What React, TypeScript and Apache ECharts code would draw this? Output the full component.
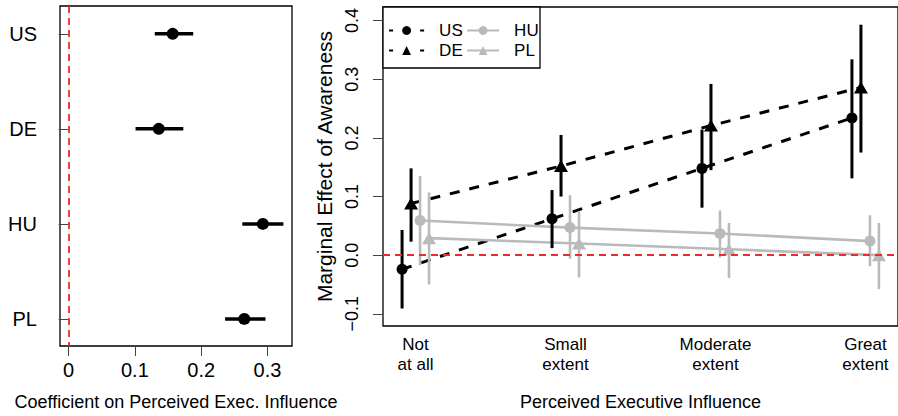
import React, { useEffect, useRef } from "react";
import * as echarts from "echarts";

// ---- Left panel data ----
const countries = ["US", "DE", "HU", "PL"];
const coefEst = [0.157, 0.136, 0.293, 0.265];
const coefLo = [0.130, 0.101, 0.262, 0.236];
const coefHi = [0.188, 0.173, 0.324, 0.297];
const coefTicks = [0, 0.1, 0.2, 0.3];

// ---- Right panel data ----
const influenceLevels = ["Not\nat all", "Small\nextent", "Moderate\nextent", "Great\nextent"];
const usEst = [-0.024, 0.062, 0.148, 0.234];
const usLo = [-0.091, 0.012, 0.081, 0.131];
const usHi = [0.043, 0.111, 0.214, 0.334];
const deEst = [0.088, 0.152, 0.221, 0.286];
const deLo = [0.023, 0.100, 0.145, 0.175];
const deHi = [0.148, 0.205, 0.292, 0.393];
const huEst = [0.059, 0.047, 0.037, 0.024];
const huLo = [-0.017, -0.006, -0.004, -0.019];
const huHi = [0.135, 0.102, 0.076, 0.068];
const plEst = [0.029, 0.020, 0.010, 0.000];
const plLo = [-0.050, -0.038, -0.039, -0.058];
const plHi = [0.107, 0.075, 0.055, 0.055];
const effectTicks = [-0.1, 0.0, 0.1, 0.2, 0.3, 0.4];

// jitter of each country around a category position (style)
const jitter: Record<string, number> = { US: -0.09, DE: -0.03, HU: 0.03, PL: 0.09 };

const FONT = "Liberation Sans, Arial, Helvetica, sans-serif";
const BLACK = "#000000";
const GRAY = "#bababa";
const RED = "#ee2a2a";

export default function App() {
  const ref = useRef<HTMLDivElement>(null);

  useEffect(() => {
    document.body.style.margin = "0";
    if (!ref.current) return;
    const chart = echarts.init(ref.current, undefined, { renderer: "svg" });

    const groups = [
      { name: "US", est: usEst, lo: usLo, hi: usHi, color: BLACK, symbol: "circle", dashed: true },
      { name: "DE", est: deEst, lo: deLo, hi: deHi, color: BLACK, symbol: "triangle", dashed: true },
      { name: "HU", est: huEst, lo: huLo, hi: huHi, color: GRAY, symbol: "circle", dashed: false },
      { name: "PL", est: plEst, lo: plLo, hi: plHi, color: GRAY, symbol: "triangle", dashed: false },
    ];

    const rightSeries: any[] = [];
    groups.forEach((g) => {
      const xs = influenceLevels.map((_, i) => i + 1 + jitter[g.name]);
      rightSeries.push({
        type: "custom",
        name: g.name + " CI",
        xAxisIndex: 1,
        yAxisIndex: 1,
        silent: true,
        z: 3,
        data: xs.map((x, i) => [x, g.lo[i], g.hi[i]]),
        encode: { x: 0, y: [1, 2] },
        renderItem: (params: any, api: any) => {
          const x = api.value(0);
          const p1 = api.coord([x, api.value(1)]);
          const p2 = api.coord([x, api.value(2)]);
          return {
            type: "line",
            shape: { x1: p1[0], y1: p1[1], x2: p2[0], y2: p2[1] },
            style: { stroke: g.color, lineWidth: g.color === BLACK ? 3 : 2.6 },
          };
        },
      });
      rightSeries.push({
        type: "line",
        name: g.name,
        xAxisIndex: 1,
        yAxisIndex: 1,
        silent: true,
        z: 2,
        symbol: g.symbol,
        showSymbol: false,
        itemStyle: { color: g.color },
        lineStyle: g.dashed
          ? { color: g.color, width: 3, type: [10, 10] }
          : { color: g.color, width: 2.6, type: "solid" },
        data: xs.map((x, i) => [x, g.est[i]]),
      });
      rightSeries.push({
        type: "scatter",
        name: g.name + " pts",
        xAxisIndex: 1,
        yAxisIndex: 1,
        silent: true,
        z: 4,
        symbol: g.symbol,
        symbolSize: g.symbol === "circle" ? 11 : [14, 12],
        itemStyle: { color: g.color, opacity: 1 },
        data: xs.map((x, i) => [x, g.est[i]]),
      });
    });

    const option: any = {
      animation: false,
      textStyle: { fontFamily: FONT },
      grid: [
        { left: 60, top: 6, right: 606, bottom: 68, show: true, borderColor: "#000", borderWidth: 1.3, backgroundColor: "transparent" },
        { left: 383, top: 7, right: -1, bottom: 88, show: true, borderColor: "#000", borderWidth: 1.3, backgroundColor: "transparent" },
      ],
      legend: [
        {
          orient: "vertical",
          left: 383,
          top: 17,
          itemWidth: 35,
          itemHeight: 11,
          itemGap: 3,
          data: ["US", "DE"],
          lineStyle: { width: 2.2, type: [4, 27] },
          textStyle: { fontFamily: FONT, fontSize: 17, color: "#000", padding: [0, 0, 0, 10] },
          selectedMode: false,
        },
        {
          orient: "vertical",
          left: 461,
          top: 17,
          itemWidth: 32,
          itemHeight: 11,
          itemGap: 3,
          data: ["HU", "PL"],
          lineStyle: { width: 2.2 },
          textStyle: { fontFamily: FONT, fontSize: 17, color: "#000", padding: [0, 0, 0, 10] },
          selectedMode: false,
        },
      ],
      graphic: [
        {
          type: "rect",
          shape: { x: 383, y: 7, width: 157, height: 61 },
          style: { fill: "#fff", stroke: "#000", lineWidth: 1.3 },
          z: 0,
          silent: true,
        },
      ],
      xAxis: [
        {
          type: "value",
          gridIndex: 0,
          min: -0.01296,
          max: 0.33696,
          splitLine: { show: false },
          axisLine: { show: false },
          axisTick: { show: true, customValues: coefTicks, length: 10, lineStyle: { color: "#444", width: 1 } },
          axisLabel: { customValues: coefTicks, margin: 14, fontSize: 20, color: "#000", fontFamily: FONT, formatter: (v: number) => String(v) },
          name: "Coefficient on Perceived Exec. Influence",
          nameLocation: "middle",
          nameGap: 47,
          nameTextStyle: { fontSize: 18, color: "#000", fontFamily: FONT },
        },
        {
          type: "value",
          gridIndex: 1,
          min: 0.7828,
          max: 4.2172,
          splitLine: { show: false },
          axisLine: { show: false },
          axisTick: { show: false },
          axisLabel: {
            customValues: [1, 2, 3, 4],
            margin: 8,
            fontSize: 17,
            lineHeight: 20,
            color: "#000",
            fontFamily: FONT,
            formatter: (v: number) => influenceLevels[Math.round(v) - 1] ?? "",
          },
          name: "Perceived Executive Influence",
          nameLocation: "middle",
          nameGap: 67,
          nameTextStyle: { fontSize: 18, color: "#000", fontFamily: FONT },
        },
      ],
      yAxis: [
        {
          type: "value",
          gridIndex: 0,
          inverse: true,
          min: 0.707,
          max: 4.285,
          splitLine: { show: false },
          axisLine: { show: false },
          axisTick: { show: true, customValues: [1, 2, 3, 4], length: 10, lineStyle: { color: "#444", width: 1 } },
          axisLabel: {
            customValues: [1, 2, 3, 4],
            margin: 23,
            fontSize: 20,
            color: "#000",
            fontFamily: FONT,
            formatter: (v: number) => countries[Math.round(v) - 1] ?? "",
          },
        },
        {
          type: "value",
          gridIndex: 1,
          min: -0.1208,
          max: 0.4232,
          splitLine: { show: false },
          axisLine: { show: false },
          axisTick: { show: true, customValues: effectTicks, length: 10, lineStyle: { color: "#444", width: 1 } },
          axisLabel: {
            customValues: effectTicks,
            rotate: 90,
            margin: 22,
            fontSize: 18,
            color: "#000",
            fontFamily: FONT,
            formatter: (v: number) => v.toFixed(1).replace("-", "\u2212"),
          },
          name: "Marginal Effect of Awareness",
          nameLocation: "middle",
          nameRotate: 90,
          nameGap: 45,
          nameTextStyle: { fontSize: 21, color: "#000", fontFamily: FONT },
        },
      ],
      series: [
        {
          type: "custom",
          name: "coef CI",
          xAxisIndex: 0,
          yAxisIndex: 0,
          silent: true,
          z: 3,
          data: countries.map((_, i) => [coefLo[i], coefHi[i], i + 1]),
          encode: { x: [0, 1], y: 2 },
          renderItem: (params: any, api: any) => {
            const y = api.value(2);
            const p1 = api.coord([api.value(0), y]);
            const p2 = api.coord([api.value(1), y]);
            return {
              type: "line",
              shape: { x1: p1[0], y1: p1[1], x2: p2[0], y2: p2[1] },
              style: { stroke: BLACK, lineWidth: 3.5 },
            };
          },
          markLine: {
            silent: true,
            symbol: "none",
            label: { show: false },
            lineStyle: { color: RED, type: [7, 5], width: 1.8 },
            data: [{ xAxis: 0 }],
          },
        },
        {
          type: "scatter",
          name: "coef",
          xAxisIndex: 0,
          yAxisIndex: 0,
          silent: true,
          z: 4,
          symbol: "circle",
          symbolSize: 12,
          itemStyle: { color: BLACK, opacity: 1 },
          data: countries.map((_, i) => [coefEst[i], i + 1]),
        },
        {
          type: "line",
          name: "zero",
          xAxisIndex: 1,
          yAxisIndex: 1,
          silent: true,
          data: [],
          markLine: {
            silent: true,
            symbol: "none",
            label: { show: false },
            lineStyle: { color: RED, type: [7, 5], width: 1.8 },
            data: [{ yAxis: 0 }],
          },
        },
        ...rightSeries,
      ],
    };

    chart.setOption(option);
    return () => chart.dispose();
  }, []);

  return <div ref={ref} style={{ width: 898, height: 416 }} />;
}
